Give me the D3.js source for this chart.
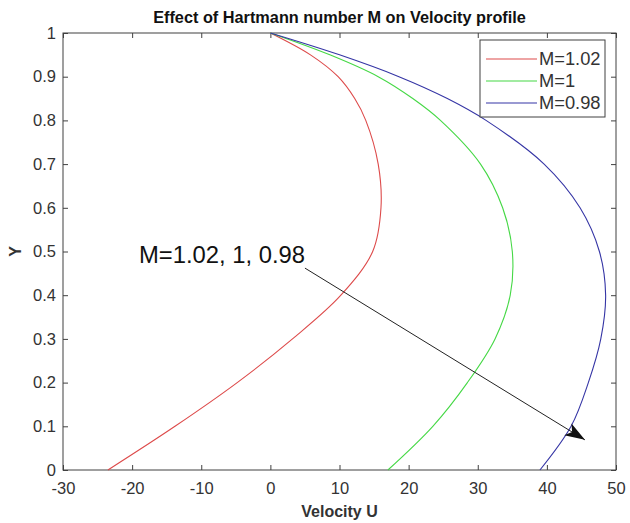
<!DOCTYPE html>
<html>
<head>
<meta charset="utf-8">
<script src="https://cdn.jsdelivr.net/npm/d3@7"></script>
<style>
    body { margin: 0; background: #fff; }
    svg { display: block; font-family: "Liberation Sans", Arial, sans-serif; }
</style>
</head>
<body>
<svg id="chart" width="630" height="523"></svg>
<script>
// values
const yLevels = [0, 0.1, 0.2, 0.3, 0.4, 0.5, 0.6, 0.7, 0.8, 0.85, 0.9, 0.95, 1];
const uM102 = [-23.5, -13.8, -4.8, 3.2, 10.2, 14.8, 16, 15.6, 13.8, 12.2, 9.8, 5.8, 0];
const uM100 = [17, 23.5, 28.5, 32.5, 34.7, 35, 33.6, 30.4, 24.6, 20.6, 15.6, 8.6, 0];
const uM098 = [39, 43.5, 46, 47.8, 48.5, 47.6, 44.8, 39.6, 31.2, 25.6, 18.6, 10, 0];

const seriesNames = ['M=1.02', 'M=1', 'M=0.98'];
const seriesColors = ['#dd4a4a', '#45d845', '#3535a5'];
const seriesValues = [uM102, uM100, uM098];

const xTicks = [-30, -20, -10, 0, 10, 20, 30, 40, 50];
const yTicks = [0, 0.1, 0.2, 0.3, 0.4, 0.5, 0.6, 0.7, 0.8, 0.9, 1];

// arrow annotation (data coords)
const arrowFrom = [5, 0.462];
const arrowTo = [45.5, 0.069];

const plotLeft = 63, plotRight = 616, plotTop = 33, plotBottom = 470;
const axisColor = '#404040';
const textColor = '#333';

const svg = d3.select('#chart');
// plain hyphen for negatives, like the original
const fmt = d3.formatLocale({ decimal: '.', thousands: ',', grouping: [3], currency: ['', ''], minus: '-' }).format('~g');

const x = d3.scaleLinear().domain([-30, 50]).range([plotLeft, plotRight]);
const y = d3.scaleLinear().domain([0, 1]).range([plotBottom, plotTop]);

// box
svg.append('rect')
    .attr('x', plotLeft).attr('y', plotTop)
    .attr('width', plotRight - plotLeft).attr('height', plotBottom - plotTop)
    .attr('fill', 'none').attr('stroke', axisColor).attr('stroke-width', 1);

// axes with inward ticks
const tickLen = 5;
svg.append('g').attr('transform', `translate(0,${plotBottom})`)
    .call(d3.axisBottom(x).tickValues(xTicks).tickFormat(fmt).tickSizeInner(-tickLen).tickSizeOuter(0).tickPadding(12));
svg.append('g').attr('transform', `translate(${plotLeft},0)`)
    .call(d3.axisLeft(y).tickValues(yTicks).tickFormat(fmt).tickSizeInner(-tickLen).tickSizeOuter(0).tickPadding(7));
svg.append('g').attr('transform', `translate(0,${plotTop})`)
    .call(d3.axisTop(x).tickValues(xTicks).tickSizeInner(-tickLen).tickSizeOuter(0).tickFormat(''));
svg.append('g').attr('transform', `translate(${plotRight},0)`)
    .call(d3.axisRight(y).tickValues(yTicks).tickSizeInner(-tickLen).tickSizeOuter(0).tickFormat(''));

svg.selectAll('.domain').remove();
svg.selectAll('.tick line').attr('stroke', axisColor);
svg.selectAll('.tick text')
    .attr('fill', textColor)
    .style('font-size', '16.5px');

// curves
const line = d3.line()
    .x(d => x(d[0]))
    .y(d => y(d[1]))
    .curve(d3.curveCatmullRom.alpha(0.5));

seriesValues.forEach((vals, i) => {
    const pts = vals.map((u, j) => [u, yLevels[j]]);
    svg.append('path')
        .datum(pts)
        .attr('d', line)
        .attr('fill', 'none')
        .attr('stroke', seriesColors[i])
        .attr('stroke-width', 1.1);
});

// annotation
svg.append('defs').append('marker')
    .attr('id', 'head')
    .attr('viewBox', '0 0 20 14')
    .attr('refX', 20).attr('refY', 7)
    .attr('markerWidth', 20).attr('markerHeight', 14)
    .attr('markerUnits', 'userSpaceOnUse')
    .attr('orient', 'auto')
    .append('path')
    .attr('d', 'M0,0 L20,7 L0,14 L5,7 Z')
    .attr('fill', '#111');

svg.append('line')
    .attr('x1', x(arrowFrom[0])).attr('y1', y(arrowFrom[1]))
    .attr('x2', x(arrowTo[0])).attr('y2', y(arrowTo[1]))
    .attr('stroke', '#222').attr('stroke-width', 1)
    .attr('marker-end', 'url(#head)');

svg.append('text')
    .attr('x', 139).attr('y', 263)
    .attr('fill', '#111')
    .style('font-size', '23.8px')
    .text('M=1.02, 1, 0.98');

// legend
const legend = svg.append('g');
legend.append('rect')
    .attr('x', 480).attr('y', 40).attr('width', 125).attr('height', 77)
    .attr('fill', '#fff').attr('stroke', axisColor).attr('stroke-width', 1);
seriesNames.forEach((name, i) => {
    const ly = 59 + i * 22;
    legend.append('line')
        .attr('x1', 486).attr('x2', 537).attr('y1', ly).attr('y2', ly)
        .attr('stroke', seriesColors[i]).attr('stroke-width', 1.1);
    legend.append('text')
        .attr('x', 539).attr('y', ly + 6)
        .attr('fill', textColor)
        .style('font-size', '18.3px')
        .text(name);
});

// titles
svg.append('text')
    .attr('x', (plotLeft + plotRight) / 2).attr('y', 23)
    .attr('text-anchor', 'middle')
    .attr('fill', '#111')
    .style('font-size', '16.3px').style('font-weight', 'bold')
    .text('Effect of Hartmann number M on Velocity profile');

svg.append('text')
    .attr('x', (plotLeft + plotRight) / 2).attr('y', 517)
    .attr('text-anchor', 'middle')
    .attr('fill', textColor)
    .style('font-size', '16px').style('font-weight', 'bold')
    .text('Velocity U');

svg.append('text')
    .attr('transform', `translate(21,${(plotTop + plotBottom) / 2}) rotate(-90)`)
    .attr('text-anchor', 'middle')
    .attr('fill', textColor)
    .style('font-size', '16px').style('font-weight', 'bold')
    .text('Y');
</script>
</body>
</html>
